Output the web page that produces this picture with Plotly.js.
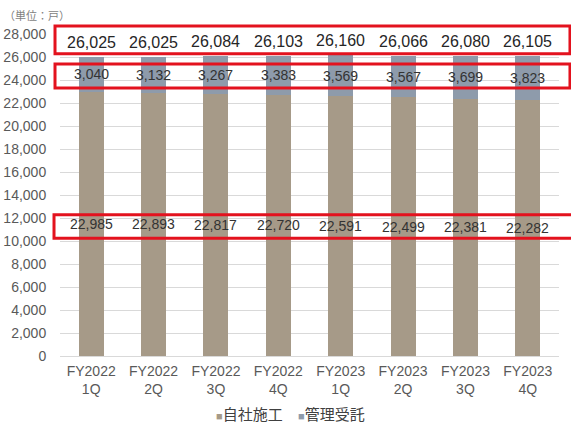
<!DOCTYPE html>
<html>
<head>
<meta charset="utf-8">
<script src="https://cdn.plot.ly/plotly-3.0.1.min.js"></script>
<style>html,body{margin:0;padding:0;background:#fff;}#chart{width:571px;height:425px;}</style>
</head>
<body>
<div id="chart"></div>
<script>
var categories = ["FY2022<br>1Q","FY2022<br>2Q","FY2022<br>3Q","FY2022<br>4Q","FY2023<br>1Q","FY2023<br>2Q","FY2023<br>3Q","FY2023<br>4Q"];
var ownConstruction = [22985, 22893, 22817, 22720, 22591, 22499, 22381, 22282];
var managementContract = [3040, 3132, 3267, 3383, 3569, 3567, 3699, 3823];
var totals = [26025, 26025, 26084, 26103, 26160, 26066, 26080, 26105];
var seriesNames = ["自社施工", "管理受託"];
var seriesColors = ['#a69a88', '#8e9bab'];
var yTicks = [0,2000,4000,6000,8000,10000,12000,14000,16000,18000,20000,22000,24000,26000,28000];

var fmt = function(v){ return v.toLocaleString('en-US'); };
var numFont = "Liberation Sans, Arial, sans-serif";
var cjkFont = "Noto Sans CJK JP, sans-serif";

var traces = [
  {type:'bar', name:seriesNames[0], x:categories, y:ownConstruction, marker:{color:seriesColors[0]}, hoverinfo:'none'},
  {type:'bar', name:seriesNames[1], x:categories, y:managementContract, marker:{color:seriesColors[1]}, hoverinfo:'none'}
];

var annotations = [];
categories.forEach(function(c,i){
  annotations.push({x:c, y:totals[i], xref:'x', yref:'y', text:fmt(totals[i]), showarrow:false,
    yanchor:'bottom', yshift:4, font:{family:numFont, size:16, color:'#262626'}});
  annotations.push({x:c, y:ownConstruction[i] + managementContract[i]/2, xref:'x', yref:'y', text:fmt(managementContract[i]), showarrow:false,
    yanchor:'middle', font:{family:numFont, size:14, color:'#333333'}});
  annotations.push({x:c, y:ownConstruction[i]/2, xref:'x', yref:'y', text:fmt(ownConstruction[i]), showarrow:false,
    yanchor:'middle', font:{family:numFont, size:14, color:'#333333'}});
});
annotations.push({x:0, y:1, xref:'paper', yref:'paper', xanchor:'left', yanchor:'top', xshift:-58, yshift:29,
  text:'（単位：戸）', showarrow:false, font:{family:cjkFont, size:11, color:'#7f7f7f'}});

// legend drawn as text entries
var legendX = [0.308, 0.472];
seriesNames.forEach(function(n,i){
  annotations.push({x:legendX[i], y:-0.18, xref:'paper', yref:'paper', xanchor:'left', yanchor:'middle', showarrow:false,
    text:'<span style="font-family:Liberation Sans;font-size:11px;fill:'+seriesColors[i]+'">■</span>'+n,
    font:{family:cjkFont, size:15, color:'#404040'}});
});

var red = '#e3121e';
var shapes = [
  {type:'rect', xref:'paper', yref:'paper', x0:-0.01, x1:1.022, y0:0.939, y1:1.025, line:{color:red, width:3}},
  {type:'rect', xref:'paper', yref:'paper', x0:-0.01, x1:1.022, y0:0.832, y1:0.907, line:{color:red, width:3}},
  {type:'rect', xref:'paper', yref:'paper', x0:-0.012, x1:1.04, y0:0.366, y1:0.439, line:{color:red, width:3}}
];

var layout = {
  width:571, height:425,
  margin:{l:60, r:12, t:34, b:69, autoexpand:false},
  paper_bgcolor:'#ffffff', plot_bgcolor:'#ffffff',
  barmode:'stack', bargap:0.6,
  showlegend:false,
  xaxis:{type:'category', tickfont:{family:numFont, size:14, color:'#595959'}, showline:false, ticks:'outside', ticklen:2, tickcolor:'rgba(0,0,0,0)', showgrid:false, automargin:false},
  yaxis:{range:[0,28000], tickvals:yTicks, tickformat:',', tickfont:{family:numFont, size:14, color:'#595959'},
    gridcolor:'#d9d9d9', gridwidth:1, zeroline:true, zerolinecolor:'#d9d9d9', ticks:'outside', ticklen:10, tickcolor:'rgba(0,0,0,0)', showline:false, automargin:false},
  annotations:annotations,
  shapes:shapes
};

Plotly.newPlot('chart', traces, layout, {staticPlot:true, displayModeBar:false});
</script>
</body>
</html>
